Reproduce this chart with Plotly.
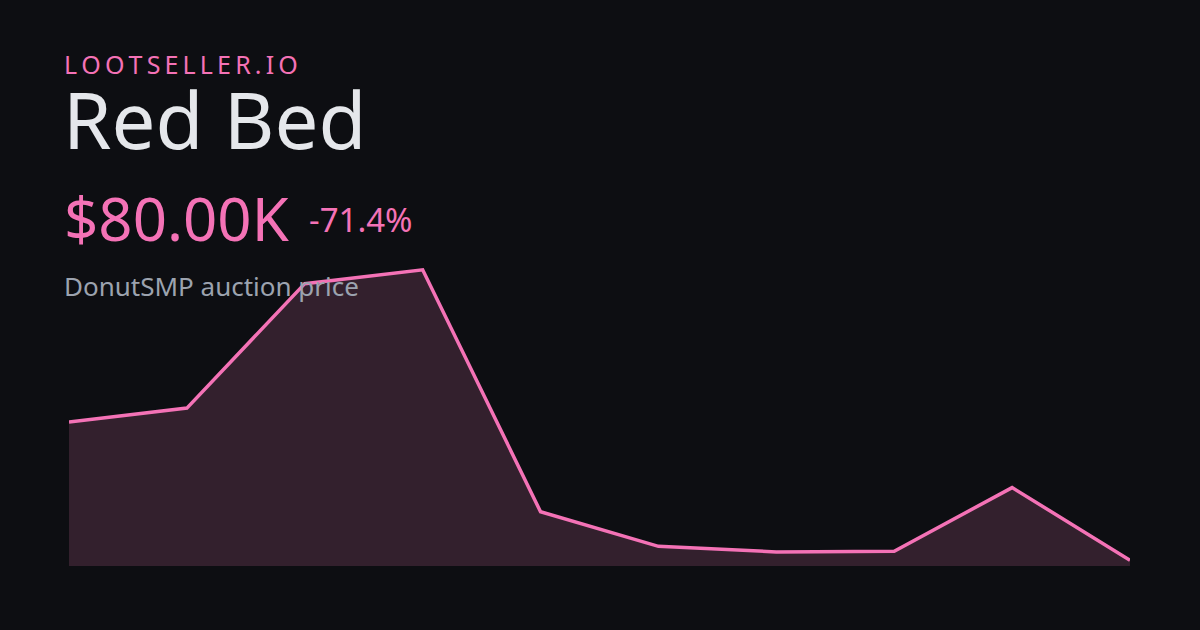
import plotly.graph_objects as go

# price history (thousands of $), oldest -> newest
days = list(range(10))
prices_k = [280, 300, 480, 500, 150, 100, 92, 93, 185, 80]

brand = "LOOTSELLER.IO"
item_name = "Red Bed"
subtitle = "DonutSMP auction price"

BG = "#0d0e12"
PINK = "#f472b6"

current = prices_k[-1]
change = (prices_k[-1] - prices_k[0]) / prices_k[0] * 100

lo, hi = min(prices_k), max(prices_k)
pad = (hi - lo) * 0.02

fig = go.Figure()
fig.add_trace(go.Scatter(
    x=days, y=prices_k, mode="lines",
    line=dict(color=PINK, width=3.5),
    fill="tozeroy", fillcolor="#33202d",
    hoverinfo="skip",
))

# plot area spans y pixels 264..566 -> convert header pixel rows to paper coords
top_px, bot_px = 264, 566
def py(p):
    return (bot_px - p) / (bot_px - top_px)

font = "Noto Sans"
spaced = "\u2009".join(brand)
annos = [
    dict(text=spaced, y=py(64), size=25, color=PINK, x=62),
    dict(text=item_name, y=py(119), size=78, color="#e5e7eb", x=61),
    dict(text=f"${current:.2f}K", y=py(218), size=60, color=PINK, x=62),
    dict(text=f"{change:.1f}%", y=py(220), size=33, color=PINK, x=307),
    dict(text=subtitle, y=py(286), size=26, color="#9ca3af", x=62),
]
for a in annos:
    fig.add_annotation(
        text=a["text"], xref="paper", yref="paper",
        x=(a["x"] - 69) / (1130 - 69), y=a["y"],
        xanchor="left", yanchor="middle", showarrow=False,
        font=dict(family=font, size=a["size"], color=a["color"]),
    )

fig.update_xaxes(range=[0, 9], visible=False)
fig.update_yaxes(range=[lo - pad, hi + pad], visible=False)
fig.update_layout(
    width=1200, height=630,
    paper_bgcolor=BG, plot_bgcolor=BG,
    margin=dict(l=69, r=70, t=top_px, b=630 - bot_px),
    showlegend=False,
)

fig.write_html(
    "out.html",
    config={"displayModeBar": False},
    post_script="document.body.style.margin='0';document.body.style.background='#0d0e12';",
)
